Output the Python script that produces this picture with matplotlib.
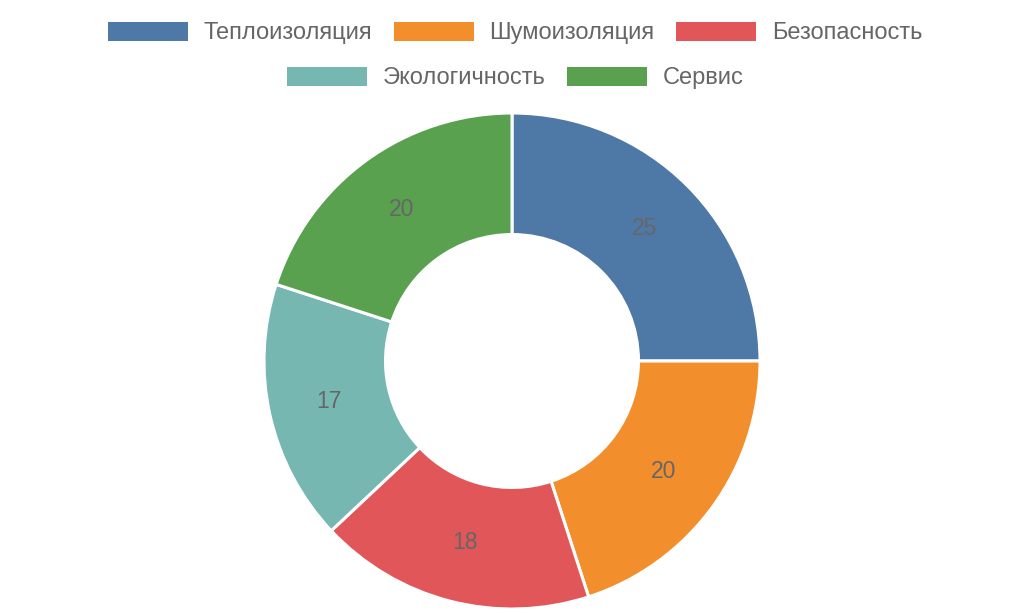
import matplotlib.pyplot as plt
from matplotlib.patches import Patch

plt.rcParams['font.family'] = ['Liberation Sans', 'DejaVu Sans']

categories = ['Теплоизоляция', 'Шумоизоляция', 'Безопасность', 'Экологичность', 'Сервис']
values = [25, 20, 18, 17, 20]
colors = ['#4e79a7', '#f28e2b', '#e15759', '#76b7b2', '#59a14f']

fig = plt.figure(figsize=(10.24, 6.14), dpi=100)

# pie centre ~ (512, 361) px, outer radius ~248 px
half = 252
ax = fig.add_axes([(512 - half) / 1024, (614 - 361 - half) / 614, 2 * half / 1024, 2 * half / 614])
lim = half / 248

wedges, texts = ax.pie(values, colors=colors, startangle=90, counterclock=False,
                       radius=1, labels=[str(v) for v in values], labeldistance=0.755,
                       wedgeprops=dict(width=0.49, edgecolor='white', linewidth=2.2),
                       textprops=dict(color='#666666', fontsize=16.5, ha='center', va='center'))
ax.set_xlim(-lim, lim)
ax.set_ylim(-lim, lim)
ax.set_aspect('equal')
ax.axis('off')

handles = [Patch(facecolor=c, edgecolor='none') for c in colors]
common = dict(frameon=False, fontsize=17, handlelength=3.4, handleheight=0.85,
              handletextpad=0.66, columnspacing=0.9, labelcolor='#666666',
              borderaxespad=0, borderpad=0)
leg1 = fig.legend(handles[:3], categories[:3], ncol=3, loc='center',
                  bbox_to_anchor=(0.503, 1 - 33 / 614), **common)
leg2 = fig.legend(handles[3:], categories[3:], ncol=2, loc='center',
                  bbox_to_anchor=(0.503, 1 - 78 / 614), **common)

fig.savefig('out.png', dpi=100)
